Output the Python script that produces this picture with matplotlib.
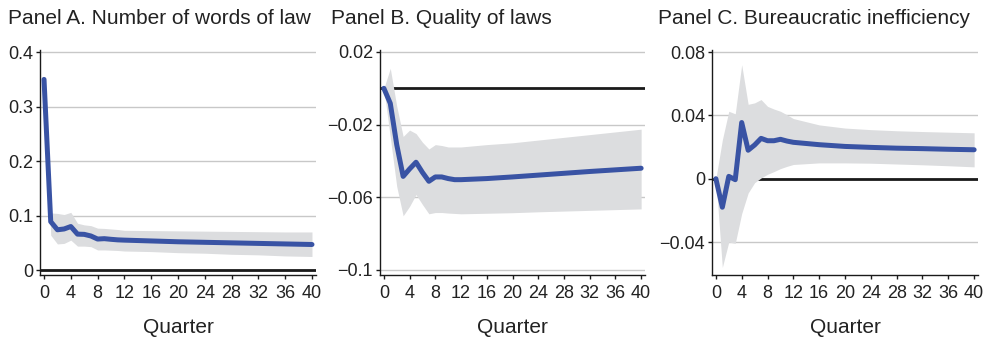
import matplotlib
matplotlib.use('Agg')
import matplotlib.pyplot as plt

plt.rcParams['font.family'] = ['Liberation Sans', 'DejaVu Sans']

quarters = [0, 1, 2, 3, 4, 5, 6, 7, 8, 9, 10, 11, 12, 16, 20, 24, 28, 32, 36, 40]

words_irf = [0.350, 0.089, 0.074, 0.0755, 0.080, 0.066, 0.0656, 0.0626, 0.057, 0.0577,
             0.0565, 0.0555, 0.055, 0.0535, 0.052, 0.051, 0.050, 0.049, 0.048, 0.047]
words_hi = [0.353, 0.105, 0.104, 0.102, 0.106, 0.086, 0.083, 0.0816, 0.077, 0.0765,
            0.0755, 0.0745, 0.073, 0.0725, 0.072, 0.0715, 0.071, 0.0705, 0.070, 0.070]
words_lo = [0.347, 0.064, 0.048, 0.049, 0.055, 0.044, 0.044, 0.043, 0.037, 0.037,
            0.0365, 0.036, 0.035, 0.034, 0.032, 0.031, 0.029, 0.028, 0.026, 0.025]

quality_irf = [0.0, -0.0083, -0.031, -0.0485, -0.0444, -0.0407, -0.0463, -0.0512, -0.0488, -0.0488,
               -0.0497, -0.0503, -0.0503, -0.0497, -0.0488, -0.0478, -0.0468, -0.0458, -0.0449, -0.044]
quality_hi = [0.0, 0.011, -0.0098, -0.0265, -0.0230, -0.0249, -0.0297, -0.0334, -0.031, -0.0315,
              -0.0323, -0.0323, -0.0323, -0.031, -0.030, -0.0285, -0.027, -0.0255, -0.024, -0.0225]
quality_lo = [0.0, -0.027, -0.054, -0.0702, -0.065, -0.0585, -0.064, -0.0691, -0.0684, -0.0684,
              -0.0687, -0.0689, -0.0691, -0.0688, -0.0685, -0.0680, -0.0676, -0.0672, -0.0668, -0.0664]

bureau_irf = [0.0, -0.018, 0.0015, -0.0006, 0.0355, 0.018, 0.0213, 0.0255, 0.024, 0.024,
              0.0249, 0.0238, 0.023, 0.0215, 0.0204, 0.0198, 0.0193, 0.019, 0.0186, 0.0183]
bureau_hi = [0.0, 0.0245, 0.0426, 0.041, 0.072, 0.047, 0.0479, 0.050, 0.0457, 0.044,
             0.0426, 0.0404, 0.038, 0.034, 0.032, 0.031, 0.0303, 0.0298, 0.0294, 0.029]
bureau_lo = [0.0, -0.056, -0.040, -0.0408, -0.022, -0.009, -0.0025, 0.0005, 0.0028, 0.0045,
             0.0064, 0.0078, 0.009, 0.010, 0.010, 0.0098, 0.0093, 0.0088, 0.0082, 0.0075]

titles = ['Panel A. Number of words of law', 'Panel B. Quality of laws',
          'Panel C. Bureaucratic inefficiency']
x_ticks = list(range(0, 41, 4))
y_ticks = [[0, 0.1, 0.2, 0.3, 0.4], [-0.1, -0.06, -0.02, 0.02], [-0.04, 0, 0.04, 0.08]]
y_labels = [['0', '0.1', '0.2', '0.3', '0.4'], ['\u22120.1', '\u22120.06', '\u22120.02', '0.02'],
            ['\u22120.04', '0', '0.04', '0.08']]
y_lims = [(-0.009, 0.404), (-0.1028, 0.0211), (-0.0608, 0.0813)]

W, H = 991, 341
ax_px = [(40, 316), (380, 645), (712, 978)]
title_x = [8, 331, 658]
top_px, bot_px = 50, 275

blue = '#3953a4'
band = '#dcdddf'
grid = '#c8c8c8'
txt = '#222222'

fig = plt.figure(figsize=(W / 100, H / 100), dpi=100)

panels = [(words_irf, words_hi, words_lo), (quality_irf, quality_hi, quality_lo),
          (bureau_irf, bureau_hi, bureau_lo)]

for i, (irf, hi, lo) in enumerate(panels):
    l, r = ax_px[i]
    ax = fig.add_axes([l / W, 1 - bot_px / H, (r - l) / W, (bot_px - top_px) / H])
    for yt in y_ticks[i]:
        ax.axhline(yt, color=grid, lw=1.0, zorder=0)
    # zero line sits under the band, so the band hides it where it spans 0
    ax.axhline(0, color='#1a1a1a', lw=2.0, zorder=1)
    ax.fill_between(quarters, lo, hi, color=band, lw=0, zorder=2)
    ax.plot(quarters, irf, color=blue, lw=3.6, solid_joinstyle='round',
            solid_capstyle='round', zorder=3)
    ax.set_xlim(-0.6, 40.6)
    ax.set_ylim(*y_lims[i])
    ax.set_xticks(x_ticks)
    ax.set_yticks(y_ticks[i])
    ax.set_yticklabels(y_labels[i])
    for s in ['top', 'right']:
        ax.spines[s].set_visible(False)
    for s in ['left', 'bottom']:
        ax.spines[s].set_linewidth(1.0)
        ax.spines[s].set_color('#1a1a1a')
    ax.tick_params(axis='both', labelsize=13, colors='#1a1a1a', labelcolor=txt,
                   length=3, width=1.0, pad=2)
    ax.tick_params(axis='x', pad=4)
    ax.set_xlabel('Quarter', fontsize=15, color=txt, labelpad=12)
    fig.text(title_x[i] / W, 1 - 24 / H, titles[i], fontsize=15, color=txt,
             ha='left', va='baseline')

fig.savefig('out.png', dpi=100)
